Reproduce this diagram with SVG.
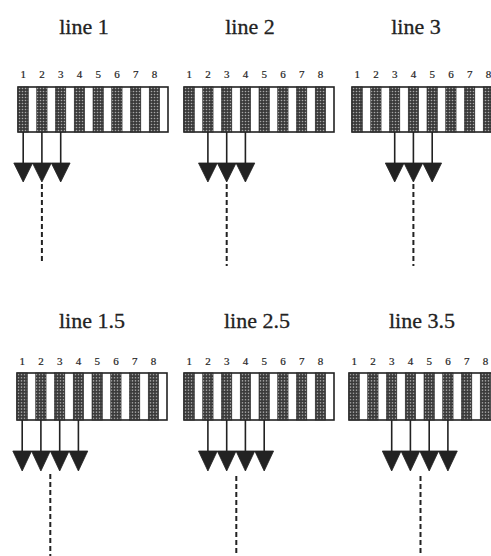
<svg xmlns="http://www.w3.org/2000/svg" xmlns:xlink="http://www.w3.org/1999/xlink" width="491" height="556" viewBox="0 0 491 556">
<style>
.title{font-family:"Liberation Serif",serif;font-size:22px;fill:#222;stroke:#222;stroke-width:0.3;text-anchor:middle}
.num{font-family:"Liberation Serif",serif;font-size:11px;fill:#222;stroke:#222;stroke-width:0.2;text-anchor:middle}
.frame{fill:#fff;stroke:#222;stroke-width:1.6}
.stripe{fill:url(#hatch);stroke:#222;stroke-width:0.6}
.shaft{stroke:#222;stroke-width:1.6;fill:none}
.head{fill:#222;stroke:#222;stroke-width:0.8;stroke-linejoin:round}
.dash{stroke:#222;stroke-width:2;stroke-dasharray:5 3;fill:none}
</style>
<defs>
<pattern id="hatch" width="3" height="3" patternUnits="userSpaceOnUse">
<rect width="3" height="3" fill="#3a3a3a"/>
<circle cx="1.5" cy="1.5" r="0.8" fill="#a8a8a8"/>
</pattern>
<g id="stripes">
<rect class="stripe" x="0" y="0" width="10.3" height="45"/>
<rect class="stripe" x="18.75" y="0" width="10.3" height="45"/>
<rect class="stripe" x="37.5" y="0" width="10.3" height="45"/>
<rect class="stripe" x="56.25" y="0" width="10.3" height="45"/>
<rect class="stripe" x="75" y="0" width="10.3" height="45"/>
<rect class="stripe" x="93.75" y="0" width="10.3" height="45"/>
<rect class="stripe" x="112.5" y="0" width="10.3" height="45"/>
<rect class="stripe" x="131.25" y="0" width="10.3" height="45"/>
</g>
<g id="nums">
<text class="num" x="5.15" y="0">1</text>
<text class="num" x="23.9" y="0">2</text>
<text class="num" x="42.65" y="0">3</text>
<text class="num" x="61.4" y="0">4</text>
<text class="num" x="80.15" y="0">5</text>
<text class="num" x="98.9" y="0">6</text>
<text class="num" x="117.65" y="0">7</text>
<text class="num" x="136.4" y="0">8</text>
</g>
</defs>
<rect width="491" height="556" fill="#fff"/>

<g id="line1">
<text class="title" x="84" y="34">line 1</text>
<use xlink:href="#nums" transform="translate(18,78)"/>
<rect class="frame" x="18" y="87" width="150" height="45"/>
<use xlink:href="#stripes" transform="translate(18,87)"/>
</g>
<g id="line2">
<text class="title" x="250" y="34">line 2</text>
<use xlink:href="#nums" transform="translate(184,78)"/>
<rect class="frame" x="184" y="87" width="150" height="45"/>
<use xlink:href="#stripes" transform="translate(184,87)"/>
</g>
<g id="line3">
<text class="title" x="416" y="34">line 3</text>
<use xlink:href="#nums" transform="translate(352,78)"/>
<rect class="frame" x="352" y="87" width="150" height="45"/>
<use xlink:href="#stripes" transform="translate(352,87)"/>
</g>
<g id="line1_5">
<text class="title" x="92" y="328">line 1.5</text>
<use xlink:href="#nums" transform="translate(17,365)"/>
<rect class="frame" x="17" y="373" width="150" height="47"/>
<use xlink:href="#stripes" transform="translate(17,373) scale(1,1.044)"/>
</g>
<g id="line2_5">
<text class="title" x="257" y="328">line 2.5</text>
<use xlink:href="#nums" transform="translate(184,365)"/>
<rect class="frame" x="184" y="373" width="150" height="47"/>
<use xlink:href="#stripes" transform="translate(184,373) scale(1,1.044)"/>
</g>
<g id="line3_5">
<text class="title" x="422" y="328">line 3.5</text>
<use xlink:href="#nums" transform="translate(349,365)"/>
<rect class="frame" x="349" y="373" width="150" height="47"/>
<use xlink:href="#stripes" transform="translate(349,373) scale(1,1.044)"/>
</g>

<g id="connectors">
<!-- line 1 -->
<path class="shaft" d="M23.2,132V163M41.9,132V163M60.7,132V163"/>
<path class="head" d="M13.8,163H32.6L23.2,182ZM32.5,163H51.3L41.9,182ZM51.3,163H70.1L60.7,182Z"/>
<path class="dash" d="M41.9,184V262"/>
<!-- line 2 -->
<path class="shaft" d="M207.9,132V163M226.7,132V163M245.4,132V163"/>
<path class="head" d="M198.5,163H217.3L207.9,182ZM217.3,163H236.1L226.7,182ZM236,163H254.8L245.4,182Z"/>
<path class="dash" d="M226.7,184V266"/>
<!-- line 3 -->
<path class="shaft" d="M394.7,132V163M413.4,132V163M432.2,132V163"/>
<path class="head" d="M385.3,163H404.1L394.7,182ZM404,163H422.8L413.4,182ZM422.8,163H441.6L432.2,182Z"/>
<path class="dash" d="M413.4,184V266"/>
<!-- line 1.5 -->
<path class="shaft" d="M22.2,420V451M40.9,420V451M59.7,420V451M78.4,420V451"/>
<path class="head" d="M12.8,451H31.6L22.2,471ZM31.5,451H50.3L40.9,471ZM50.3,451H69.1L59.7,471ZM69,451H87.8L78.4,471Z"/>
<path class="dash" d="M50.3,474V556"/>
<!-- line 2.5 -->
<path class="shaft" d="M207.9,420V451M226.7,420V451M245.4,420V451M264.2,420V451"/>
<path class="head" d="M198.5,451H217.3L207.9,471ZM217.3,451H236.1L226.7,471ZM236,451H254.8L245.4,471ZM254.8,451H273.6L264.2,471Z"/>
<path class="dash" d="M236.3,476V556"/>
<!-- line 3.5 -->
<path class="shaft" d="M391.7,420V451M410.4,420V451M429.2,420V451M447.9,420V451"/>
<path class="head" d="M382.3,451H401.1L391.7,471ZM401,451H419.8L410.4,471ZM419.8,451H438.6L429.2,471ZM438.5,451H457.3L447.9,471Z"/>
<path class="dash" d="M420.5,476V556"/>
</g>
</svg>
